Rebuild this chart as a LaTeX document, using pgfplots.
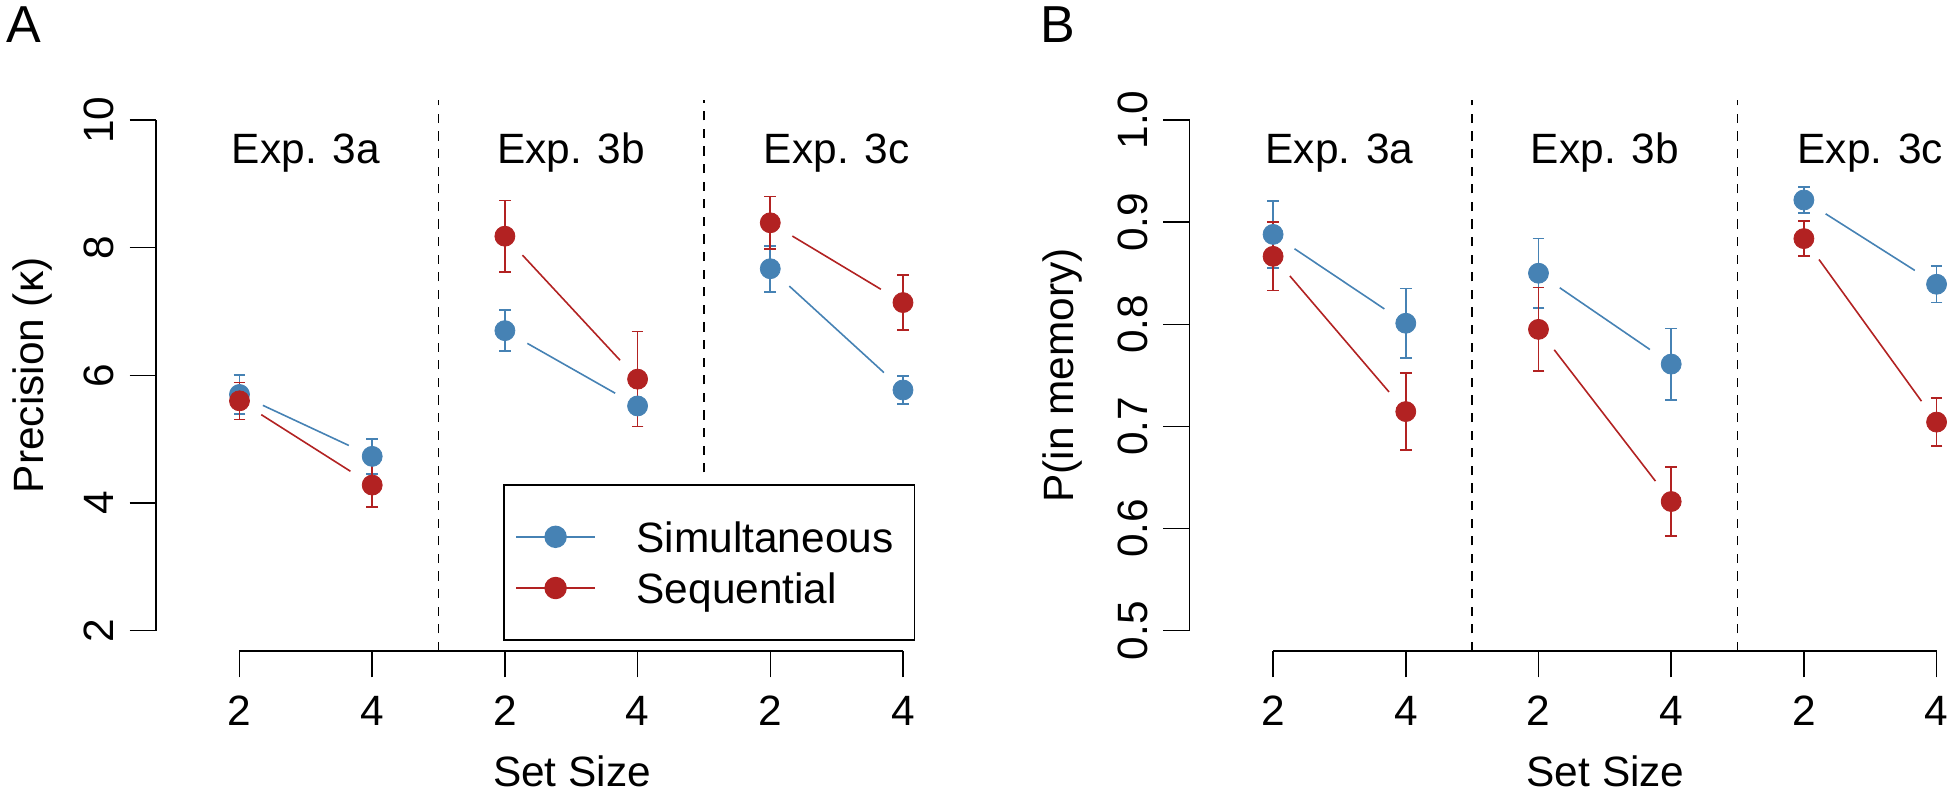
\documentclass[border=0pt]{standalone}
\usepackage{pgfplots}
\pgfplotsset{compat=1.18}
\usepackage{fontspec}
\setmainfont{Liberation Sans}
\definecolor{sb}{RGB}{70,130,180}
\definecolor{fb}{RGB}{178,34,34}
\newcommand{\fs}{\fontsize{10.6}{12}\selectfont}

\pgfplotsset{
  rstyle/.style={
    scale only axis, width=208pt, height=137.85pt,
    xmin=0.3708, xmax=6.6406,
    axis x line*=bottom, axis y line*=left,
    axis line style={draw=none},
    tick align=outside, major tick length=6.6pt,
    tick style={black, line width=0.35pt},
    xtick={1,2,3,4,5,6}, xticklabels={2,4,2,4,2,4},
    every tick label/.append style={font=\fs},
    label style={font=\fs},
    /pgf/number format/assume math mode=true,
    xticklabel style={anchor=base, yshift=-11.9pt},
    yticklabel style={xshift=-4pt, rotate=90, anchor=base},
    clip=false,
    xlabel={Set Size},
    xlabel style={at={(axis description cs:0.5,-0.2466)}, anchor=base},
  },
  linestyle/.style={line width=0.4pt, shorten <=6.45pt, shorten >=6.45pt, forget plot},
  ptstyle/.style={only marks, mark=*, mark size=2.5pt, mark options={solid, fill=#1, draw=#1, line width=0.2pt}, forget plot,
    error bars/.cd, y dir=both, y explicit,
    error bar style={#1, line width=0.4pt},
    error mark options={rotate=90, #1, line width=0.4pt, mark size=1.46pt}},
  dashstyle/.style={black, line width=0.4pt, dash pattern=on 2.3pt off 2.1pt, forget plot},
  legend image code/.code={\draw[mark repeat=2, mark phase=2, #1] plot coordinates {(0pt,0pt) (9.8pt,0pt) (19.6pt,0pt)};},
}

\begin{document}
\begin{tikzpicture}
% ---------------- Panel A ----------------
\begin{axis}[rstyle, at={(39pt,-162.75pt)}, anchor=south west,
  ymin=1.68, ymax=10.32, ytick={2,4,6,8,10}, yticklabels={2,4,6,8,10},
  ylabel={Precision (κ)},
  ylabel style={at={(axis description cs:-0.1358,0.5)}, anchor=base},
  legend cell align=left,
  legend style={at={(axis cs:2.988,4.295)}, anchor=north west, draw=black, line width=0.35pt, fill=white,
    inner xsep=2.9pt, inner ysep=6.6pt, row sep=0pt, column sep=10.25pt, font=\fs,
    nodes={inner sep=0pt, minimum height=12.8pt, text height=7.6pt, text depth=0pt, text width=66.5pt, align=left}},
]
\addplot[dashstyle] coordinates {(2.5,1.68) (2.5,10.32)};
\addplot[dashstyle] coordinates {(4.5,4.48) (4.5,10.32)};
\draw[line width=0.35pt] (axis cs:0.3708,2) -- (axis cs:0.3708,10);
\draw[line width=0.35pt] (axis cs:1,1.68) -- (axis cs:6,1.68);
% Simultaneous lines
\addplot[sb, linestyle] coordinates {(1,5.70) (2,4.73)};
\addplot[sb, linestyle] coordinates {(3,6.70) (4,5.52)};
\addplot[sb, linestyle] coordinates {(5,7.67) (6,5.77)};
% Sequential lines
\addplot[fb, linestyle] coordinates {(1,5.60) (2,4.28)};
\addplot[fb, linestyle] coordinates {(3,8.18) (4,5.94)};
\addplot[fb, linestyle] coordinates {(5,8.39) (6,7.14)};
% points
\addplot[sb, ptstyle=sb] coordinates {(1,5.70) +- (0,0.305) (2,4.73) +- (0,0.275) (3,6.70) +- (0,0.32) (4,5.52) +- (0,0.325) (5,7.67) +- (0,0.36) (6,5.77) +- (0,0.215)};
\addplot[fb, ptstyle=fb] coordinates {(1,5.60) +- (0,0.29) (2,4.28) +- (0,0.345) (3,8.18) +- (0,0.56) (4,5.94) +- (0,0.745) (5,8.39) +- (0,0.41) (6,7.14) +- (0,0.43)};
\node[anchor=base, font=\fs] at (axis cs:1.5,9.32) {Exp. 3a};
\node[anchor=base, font=\fs] at (axis cs:3.5,9.32) {Exp. 3b};
\node[anchor=base, font=\fs] at (axis cs:5.5,9.32) {Exp. 3c};
\addlegendimage{sb, line width=0.4pt, mark=*, mark size=2.6pt, mark options={solid, draw=none, fill=sb}}
\addlegendentry{Simultaneous}
\addlegendimage{fb, line width=0.4pt, mark=*, mark size=2.6pt, mark options={solid, draw=none, fill=fb}}
\addlegendentry{Sequential}
\end{axis}
% ---------------- Panel B ----------------
\begin{axis}[rstyle, at={(297.4pt,-162.75pt)}, anchor=south west,
  ymin=0.48, ymax=1.02, ytick={0.5,0.6,0.7,0.8,0.9,1.0}, yticklabels={0.5,0.6,0.7,0.8,0.9,1.0},
  ylabel={P(in memory)},
  ylabel style={at={(axis description cs:-0.1401,0.5)}, anchor=base},
]
\addplot[dashstyle] coordinates {(2.5,0.48) (2.5,1.02)};
\addplot[dashstyle] coordinates {(4.5,0.48) (4.5,1.02)};
\draw[line width=0.35pt] (axis cs:0.3708,0.5) -- (axis cs:0.3708,1.0);
\draw[line width=0.35pt] (axis cs:1,0.48) -- (axis cs:6,0.48);
\addplot[sb, linestyle] coordinates {(1,0.888) (2,0.801)};
\addplot[sb, linestyle] coordinates {(3,0.850) (4,0.761)};
\addplot[sb, linestyle] coordinates {(5,0.9217) (6,0.8392)};
\addplot[fb, linestyle] coordinates {(1,0.8665) (2,0.7145)};
\addplot[fb, linestyle] coordinates {(3,0.795) (4,0.6264)};
\addplot[fb, linestyle] coordinates {(5,0.8839) (6,0.7042)};
\addplot[sb, ptstyle=sb] coordinates {(1,0.888) +- (0,0.033) (2,0.801) +- (0,0.034) (3,0.850) +- (0,0.034) (4,0.761) +- (0,0.035) (5,0.9217) +- (0,0.013) (6,0.8392) +- (0,0.018)};
\addplot[fb, ptstyle=fb] coordinates {(1,0.8665) +- (0,0.0335) (2,0.7145) +- (0,0.0375) (3,0.795) +- (0,0.041) (4,0.6264) +- (0,0.0337) (5,0.8839) +- (0,0.0173) (6,0.7042) +- (0,0.0237)};
\node[anchor=base, font=\fs] at (axis cs:1.5,0.9573) {Exp. 3a};
\node[anchor=base, font=\fs] at (axis cs:3.5,0.9573) {Exp. 3b};
\node[anchor=base, font=\fs] at (axis cs:5.5,0.9573) {Exp. 3c};
\end{axis}
\node[anchor=base west, inner sep=0pt, font=\fontsize{13}{15}\selectfont] at (1.5pt,-10.7pt) {A};
\node[anchor=base west, inner sep=0pt, font=\fontsize{13}{15}\selectfont] at (259.8pt,-10.7pt) {B};
\pgfresetboundingbox
\path[use as bounding box] (0,0) rectangle (487.5pt,-197.75pt);
\end{tikzpicture}
\end{document}
